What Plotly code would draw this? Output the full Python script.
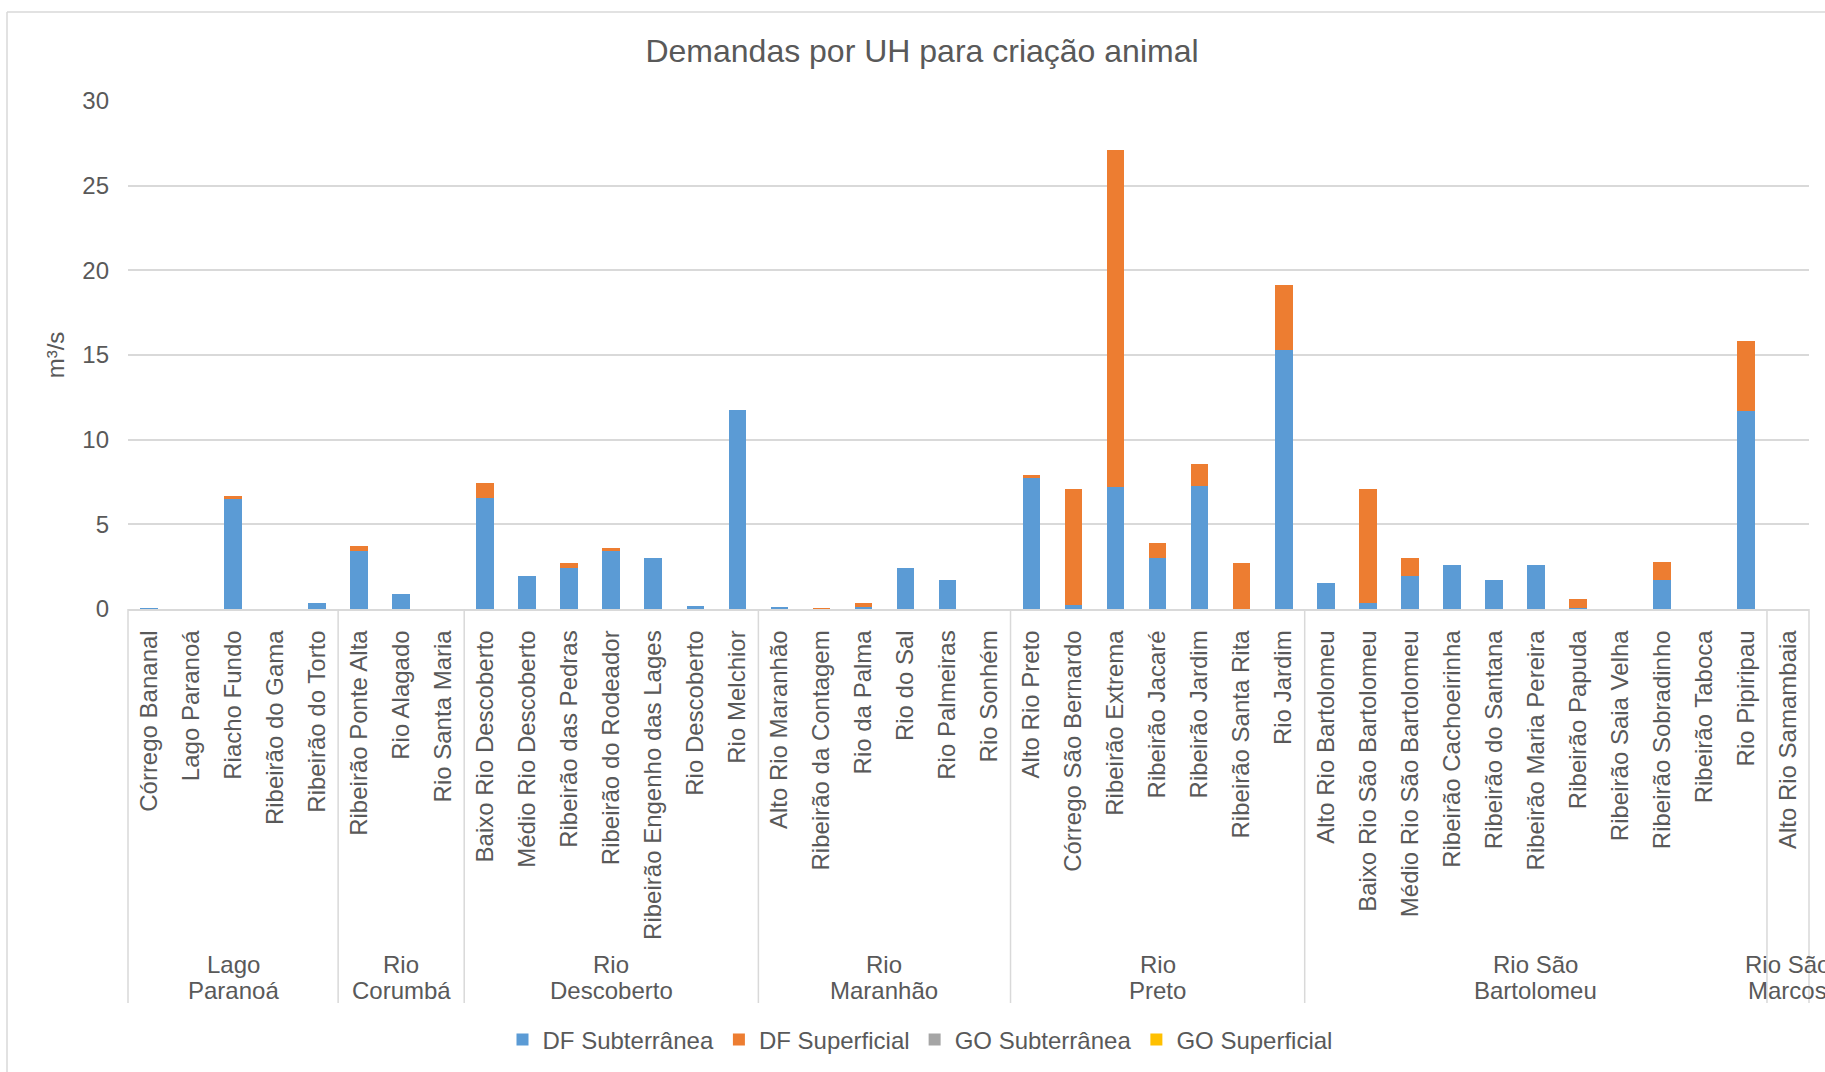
import plotly.graph_objects as go

# ---------------- data ----------------
groups = [("Lago", "Paranoá"), ("Rio", "Corumbá"), ("Rio", "Descoberto"), ("Rio", "Maranhão"),
          ("Rio", "Preto"), ("Rio São", "Bartolomeu"), ("Rio São", "Marcos")]
group_sizes = [5, 3, 7, 6, 7, 11, 1]

categories = [
    "Córrego Bananal", "Lago Paranoá", "Riacho Fundo", "Ribeirão do Gama", "Ribeirão do Torto",
    "Ribeirão Ponte Alta", "Rio Alagado", "Rio Santa Maria",
    "Baixo Rio Descoberto", "Médio Rio Descoberto", "Ribeirão das Pedras", "Ribeirão do Rodeador",
    "Ribeirão Engenho das Lages", "Rio Descoberto", "Rio Melchior",
    "Alto Rio Maranhão", "Ribeirão da Contagem", "Rio da Palma", "Rio do Sal", "Rio Palmeiras", "Rio Sonhém",
    "Alto Rio Preto", "Córrego São Bernardo", "Ribeirão Extrema", "Ribeirão Jacaré", "Ribeirão Jardim",
    "Ribeirão Santa Rita", "Rio Jardim",
    "Alto Rio Bartolomeu", "Baixo Rio São Bartolomeu", "Médio Rio São Bartolomeu", "Ribeirão Cachoeirinha",
    "Ribeirão do Santana", "Ribeirão Maria Pereira", "Ribeirão Papuda", "Ribeirão Saia Velha",
    "Ribeirão Sobradinho", "Ribeirão Taboca", "Rio Pipiripau",
    "Alto Rio Samambaia",
]

df_subterranea = [
    0.03, 0, 6.48, 0, 0.37,
    3.42, 0.88, 0,
    6.56, 1.93, 2.40, 3.42, 3.01, 0.16, 11.77,
    0.10, 0, 0.10, 2.40, 1.69, 0,
    7.74, 0.24, 7.23, 3.03, 7.29, 0, 15.27,
    1.52, 0.37, 1.95, 2.62, 1.71, 2.58, 0.08, 0, 1.73, 0, 11.67,
    0,
]
df_superficial = [
    0, 0, 0.18, 0, 0,
    0.29, 0, 0,
    0.87, 0, 0.31, 0.16, 0, 0, 0,
    0, 0.04, 0.25, 0, 0, 0,
    0.20, 6.83, 19.86, 0.84, 1.26, 2.71, 3.85,
    0, 6.73, 1.06, 0, 0, 0, 0.49, 0, 1.03, 0, 4.14,
    0,
]
go_subterranea = [0] * 40
go_superficial = [0] * 40

series = [
    ("DF Subterrânea", df_subterranea, "#5B9BD5"),
    ("DF Superficial", df_superficial, "#ED7D31"),
    ("GO Subterrânea", go_subterranea, "#A5A5A5"),
    ("GO Superficial", go_superficial, "#FFC000"),
]

# ---------------- layout constants (px) ----------------
W, H = 1825, 1072
PL, PR, PT, PB = 128, 1809, 101, 609
pw, ph = PR - PL, PB - PT
FONT = "Liberation Sans, Arial, sans-serif"
TXT = "#595959"
GRID = "#D9D9D9"

def px_x(p):
    return (p - PL) / pw

def px_y(p):
    return (PB - p) / ph

fig = go.Figure()
for name, vals, col in series:
    fig.add_trace(go.Bar(x=categories, y=vals, name=name,
                         marker=dict(color=col, line=dict(width=0))))

n = len(categories)
shapes = []
bounds = [0]
for s in group_sizes:
    bounds.append(bounds[-1] + s)
for b in bounds:
    xp = b / n
    shapes.append(dict(type="line", xref="paper", yref="paper", x0=xp, x1=xp,
                       y0=0, y1=px_y(1003), line=dict(color=GRID, width=1.5)))
# chart border (left and top edges visible)
shapes.append(dict(type="line", xref="paper", yref="paper", x0=px_x(7), x1=px_x(7),
                   y0=px_y(1080), y1=px_y(12), line=dict(color=GRID, width=1.5)))
shapes.append(dict(type="line", xref="paper", yref="paper", x0=px_x(7), x1=px_x(1840),
                   y0=px_y(12), y1=px_y(12), line=dict(color=GRID, width=1.5)))

annotations = []
for (l1, l2), a, b in zip(groups, bounds[:-1], bounds[1:]):
    for txt, yy in ((l1, 964), (l2, 990)):
        annotations.append(dict(x=(a + b - 1) / 2, xref="x", y=px_y(yy), yref="paper",
                                text=txt, showarrow=False, align="center",
                                xanchor="center", yanchor="middle",
                                font=dict(family=FONT, size=24, color=TXT)))

fig.update_layout(
    width=W, height=H,
    margin=dict(l=PL, r=W - PR, t=PT, b=H - PB, autoexpand=False),
    paper_bgcolor="white", plot_bgcolor="white",
    barmode="stack", bargap=0.58,
    font=dict(family=FONT, size=24, color=TXT),
    title=dict(text="Demandas por UH para criação animal", x=922 / W, xref="container",
               xanchor="center", y=1 - 51 / H, yref="container", yanchor="middle",
               font=dict(family=FONT, size=32, color=TXT)),
    xaxis=dict(type="category", range=[-0.5, n - 0.5], tickangle=-90,
               tickfont=dict(family=FONT, size=24, color=TXT), showgrid=False,
               showline=True, linecolor=GRID, linewidth=1.5, ticks="",
               ticklabelstandoff=10, automargin=False),
    yaxis=dict(range=[0, 30], dtick=5, showgrid=True, gridcolor=GRID, gridwidth=1.5,
               zeroline=False, showline=False, ticks="",
               tickfont=dict(family=FONT, size=24, color=TXT), ticklabelstandoff=18,
               title=dict(text="m³/s", font=dict(family=FONT, size=24, color=TXT), standoff=10),
               automargin=False),
    legend=dict(orientation="h", x=px_x(920), xanchor="center", y=px_y(1040), yanchor="middle",
                font=dict(family=FONT, size=24, color=TXT), traceorder="normal"),
    shapes=shapes, annotations=annotations,
    showlegend=True,
)

fig.write_html("out.html", config={"displayModeBar": False},
               post_script="document.body.style.margin='0';document.body.style.overflow='hidden';")
